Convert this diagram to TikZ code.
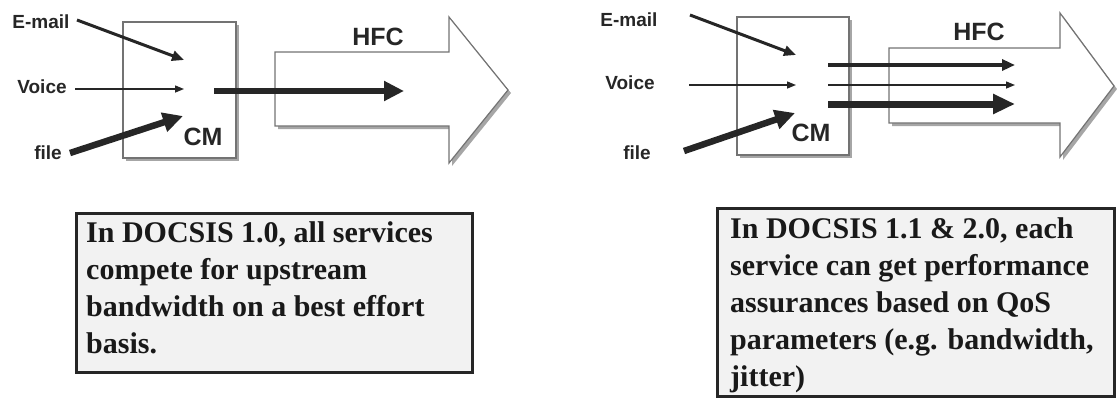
\documentclass[tikz,border=0pt]{standalone}
\usepackage{fontspec}
\setmainfont{Liberation Serif}
\setsansfont{Liberation Sans}
\usetikzlibrary{arrows.meta}
\begin{document}
\begin{tikzpicture}[x=1pt,y=-1pt,
  lbl/.style={font=\sffamily\bfseries\fontsize{19}{22}\selectfont, inner sep=0pt, text=black!85},
  bigl/.style={font=\sffamily\bfseries\fontsize{25}{28}\selectfont, inner sep=0pt, text=black!85},
  cmbox/.style={draw=black!55, line width=1.2pt, fill=white},
  shade/.style={fill=black!35, draw=none},
  hfc/.style={draw=black!55, line width=1.2pt, fill=white},
  thinarr/.style={draw=black!85, line width=1.4pt, -{Triangle[length=9pt,width=7pt]}},
  medarr/.style={draw=black!85, line width=3pt, -{Triangle[length=12pt,width=10pt]}},
  thickarr/.style={draw=black!85, line width=6.5pt, -{Triangle[length=20pt,width=19pt]}},
  textbox/.style={draw=black!85, line width=3pt, fill=black!5},
  boxtext/.style={font=\bfseries\fontsize{30}{37}\selectfont, align=left, inner sep=0pt, anchor=north west, text=black!90}
]
\useasboundingbox (0,0) rectangle (1117,400);

% ---------------- left diagram ----------------
\fill[shade] (126,25) rectangle (239,161);
\node[cmbox, minimum width=113pt, minimum height=136pt, inner sep=0pt] (cm1) at (179.5,90) {};
\fill[shade] (278,55) -- (452,55) -- (452,20) -- (511,93) -- (452,166) -- (452,129) -- (278,129) -- cycle;
\draw[hfc] (275,52) -- (449,52) -- (449,17) -- (508,90) -- (449,163) -- (449,126) -- (275,126) -- cycle;

\node[lbl] (email1) at (41,22) {E-mail};
\node[lbl] (voice1) at (42,87) {Voice};
\node[lbl] (file1) at (48,153) {file};
\node[bigl] (cmlab1) at (203,137) {CM};
\node[bigl] (hfclab1) at (378,37) {HFC};

\coordinate (e1s) at (77,20);
\coordinate (e1e) at (184,60);
\coordinate (v1s) at (75,89);
\coordinate (v1e) at (184,89);
\coordinate (f1s) at (70,153);
\coordinate (f1e) at (183,116);
\coordinate (o1s) at (214,91);
\coordinate (o1e) at (404,91);

\draw[medarr] (e1s) -- (e1e);
\draw[thinarr] (v1s) -- (v1e);
\draw[thickarr] (f1s) -- (f1e);
\draw[thickarr] (o1s) -- (o1e);

% ---------------- right diagram ----------------
\fill[shade] (740,20) rectangle (852,158);
\node[cmbox, minimum width=112pt, minimum height=138pt, inner sep=0pt] (cm2) at (793,86) {};
\fill[shade] (892,51) -- (1063,51) -- (1063,16) -- (1117,89) -- (1063,160) -- (1063,126) -- (892,126) -- cycle;
\draw[hfc] (889,48) -- (1060,48) -- (1060,13) -- (1114,86) -- (1060,157) -- (1060,123) -- (889,123) -- cycle;

\node[lbl] (email2) at (629,20) {E-mail};
\node[lbl] (voice2) at (630,83) {Voice};
\node[lbl] (file2) at (637,153) {file};
\node[bigl] (cmlab2) at (811,133) {CM};
\node[bigl] (hfclab2) at (979,32) {HFC};

\coordinate (e2s) at (690,15);
\coordinate (e2e) at (796,55);
\coordinate (v2s) at (689,85);
\coordinate (v2e) at (796,85);
\coordinate (f2s) at (684,151);
\coordinate (f2e) at (795,113);
\coordinate (o2as) at (828,65);
\coordinate (o2ae) at (1015,65);
\coordinate (o2bs) at (828,85);
\coordinate (o2be) at (1015,85);
\coordinate (o2cs) at (828,104);
\coordinate (o2ce) at (1015,104);

\draw[medarr] (e2s) -- (e2e);
\draw[thinarr] (v2s) -- (v2e);
\draw[thickarr] (f2s) -- (f2e);
\draw[draw=black!85, line width=3.5pt, -{Triangle[length=13pt,width=11pt]}] (o2as) -- (o2ae);
\draw[thinarr] (o2bs) -- (o2be);
\draw[draw=black!85, line width=7pt, -{Triangle[length=22pt,width=19pt]}] (o2cs) -- (o2ce);

% ---------------- text boxes ----------------
\node[textbox, minimum width=396pt, minimum height=159pt, inner sep=0pt] (box1) at (274,292.5) {};
\node[boxtext] (txt1) at (86,221) {In DOCSIS 1.0, all services\\compete for upstream\\bandwidth on a best effort\\basis.};

\node[textbox, minimum width=397pt, minimum height=188pt, inner sep=0pt] (box2) at (915.5,302) {};
\node[boxtext] (txt2) at (730,217) {In DOCSIS 1.1 \& 2.0, each\\service can get performance\\assurances based on QoS\\parameters (e.g. bandwidth,\\jitter)};
\end{tikzpicture}
\end{document}
